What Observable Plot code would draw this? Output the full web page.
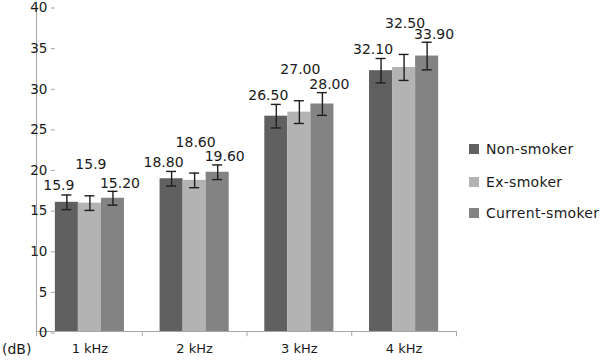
<!DOCTYPE html>
<html>
<head>
<meta charset="utf-8">
<script src="https://cdn.jsdelivr.net/npm/d3@7"></script>
<script src="https://cdn.jsdelivr.net/npm/@observablehq/plot@0.6"></script>
<style>
  body { margin: 0; background: #fff; }
  #wrap { position: relative; width: 600px; height: 362px; background: #fff; font-family: 'DejaVu Sans', sans-serif; color: #1a1a1a; }
  #chart { position: absolute; left: 0; top: 0; }
  .leg { position: absolute; left: 469px; font-size: 14px; display: flex; align-items: center; white-space: nowrap; letter-spacing: 0.3px; }
  .leg span.sw { display: inline-block; width: 10px; height: 10px; margin-right: 7px; }
  #unit { position: absolute; left: 2px; top: 341px; font-size: 14px; }
</style>
</head>
<body>
<div id="wrap">
  <div id="chart"></div>
  <div id="legend"></div>
  <div id="unit">(dB)</div>
</div>
<script>
// ---- data ----
const categories = ["1 kHz", "2 kHz", "3 kHz", "4 kHz"];
const series = ["Non-smoker", "Ex-smoker", "Current-smoker"];
const nonSmoker = [15.9, 18.8, 26.5, 32.1];
const exSmoker = [15.8, 18.6, 27.0, 32.5];
const currentSmoker = [16.4, 19.6, 28.0, 33.9];
const nonErr = [0.9, 0.9, 1.45, 1.5];
const exErr = [0.9, 0.9, 1.4, 1.6];
const currentErr = [0.85, 0.9, 1.4, 1.7];
const nonLabels = ["15.9", "18.80", "26.50", "32.10"];
const exLabels = ["15.9", "18.60", "27.00", "32.50"];
const currentLabels = ["15.20", "19.60", "28.00", "33.90"];
const yTicks = [0, 5, 10, 15, 20, 25, 30, 35, 40];
const colors = ["#606060", "#b3b3b3", "#838383"];

// ---- build table ----
const valuesBySeries = [nonSmoker, exSmoker, currentSmoker];
const errBySeries = [nonErr, exErr, currentErr];
const labelsBySeries = [nonLabels, exLabels, currentLabels];
const data = [];
categories.forEach((c, i) => {
  series.forEach((s, j) => {
    data.push({cat: c, series: s, value: valuesBySeries[j][i], err: errBySeries[j][i], label: labelsBySeries[j][i]});
  });
});

// ---- layout ----
const width = 600, height = 362;
const marginLeft = 36, marginRight = 143, marginTop = 6, marginBottom = 31;
const padIn = 0.34, padOut = 0.18;
const W = width - marginLeft - marginRight;
const step = W / (categories.length - padIn + 2 * padOut);
const bw = step * (1 - padIn);
const gap = step * padIn;
const barW = bw / series.length;
const axisGray = "#a6a6a6";
const labelDx = [-8, 1, 7];
const labelDy = [-9, -31, -8];

const marks = [
  Plot.barY(data, {fx: "cat", x: "series", y: "value", fill: "series"}),
  Plot.ruleY([0], {stroke: axisGray, insetLeft: -gap / 2, insetRight: -gap / 2}),
  // boundary ticks under baseline
  Plot.ruleX(categories, {fx: d => d, x: () => series[series.length - 1], y1: 0, y2: -0.65, stroke: axisGray, dx: barW / 2 + gap / 2}),
  // y axis line (first facet, left edge)
  Plot.ruleX(categories.slice(0, 1), {fx: d => d, x: () => series[0], y1: -0.65, y2: 40, stroke: axisGray, dx: -(barW / 2 + padOut * step)}),
  // error bars
  Plot.ruleX(data, {fx: "cat", x: "series", y1: d => d.value - d.err, y2: d => d.value + d.err, stroke: "#1e1e1e", strokeWidth: 1.4}),
  Plot.tickY(data, {fx: "cat", x: "series", y: d => d.value + d.err, stroke: "#1e1e1e", strokeWidth: 1.4, insetLeft: (barW - 10) / 2, insetRight: (barW - 10) / 2}),
  Plot.tickY(data, {fx: "cat", x: "series", y: d => d.value - d.err, stroke: "#1e1e1e", strokeWidth: 1.4, insetLeft: (barW - 10) / 2, insetRight: (barW - 10) / 2}),
  Plot.axisY(yTicks, {tickSize: 4, tickPadding: 4, stroke: axisGray, fill: "#1a1a1a", fontSize: 13.5, dy: 1.5, label: null, tickFormat: d => String(d)}),
  Plot.axisFx({anchor: "bottom", tickSize: 0, tickPadding: 12, label: null, fontSize: 13, fill: "#1a1a1a"})
];
series.forEach((s, j) => {
  marks.push(Plot.text(data.filter(d => d.series === s), {
    fx: "cat", x: "series", y: d => d.value + d.err, text: "label",
    dx: labelDx[j], dy: labelDy[j], fontSize: 14, fill: "#1a1a1a"
  }));
});

const chart = Plot.plot({
  width, height, marginLeft, marginRight, marginTop, marginBottom,
  style: {fontFamily: "'DejaVu Sans', sans-serif", fontSize: "13px", background: "#fff", color: "#1a1a1a", overflow: "visible"},
  fx: {domain: categories, paddingInner: padIn, paddingOuter: padOut, round: false, label: null},
  x: {domain: series, padding: 0, axis: null, round: false},
  y: {domain: [0, 40], axis: null},
  color: {domain: series, range: colors},
  marks
});
document.getElementById("chart").appendChild(chart);

// ---- legend ----
const legendTops = [149, 182, 213];
const legend = document.getElementById("legend");
series.forEach((s, j) => {
  const row = document.createElement("div");
  row.className = "leg";
  row.style.top = (legendTops[j] - 9) + "px";
  row.style.height = "18px";
  const sw = document.createElement("span");
  sw.className = "sw";
  sw.style.background = colors[j];
  row.appendChild(sw);
  row.appendChild(document.createTextNode(s));
  legend.appendChild(row);
});
</script>
</body>
</html>
